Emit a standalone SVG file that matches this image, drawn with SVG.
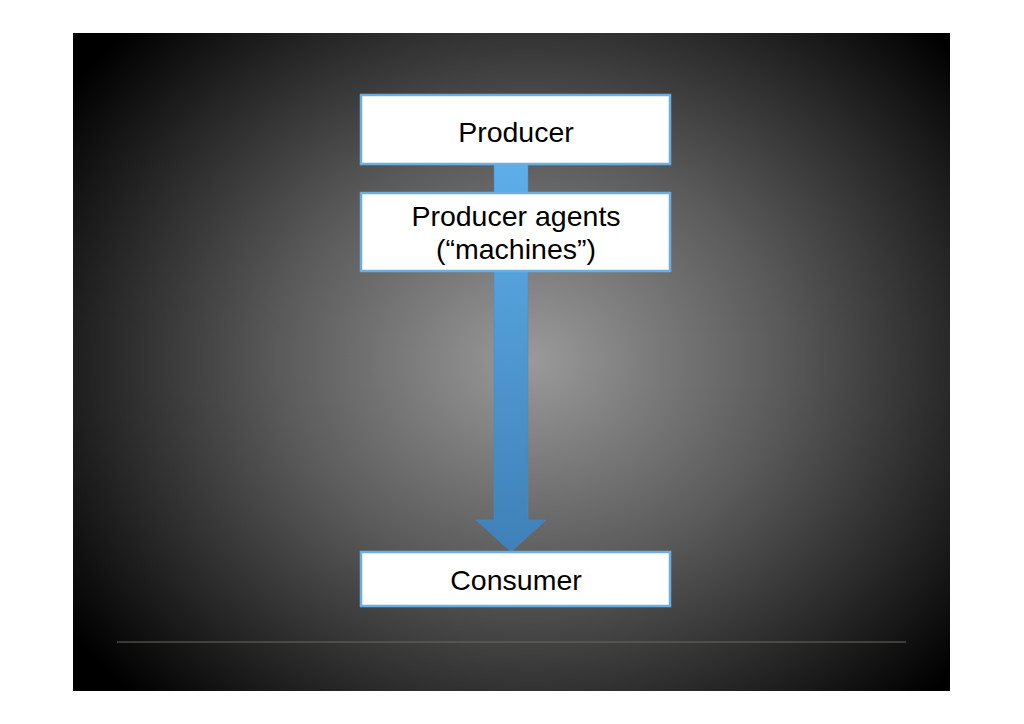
<svg xmlns="http://www.w3.org/2000/svg" width="1024" height="724" viewBox="0 0 1024 724">
<defs>
<radialGradient id="bg" cx="530" cy="360" r="560" gradientUnits="userSpaceOnUse" gradientTransform="translate(530 360) scale(1 0.85) translate(-530 -360)">
<stop offset="0" stop-color="#9a9a9a"/>
<stop offset="0.45" stop-color="#5a5a5a"/>
<stop offset="1" stop-color="#000000"/>
</radialGradient>
<linearGradient id="arr" x1="0" y1="164" x2="0" y2="552" gradientUnits="userSpaceOnUse">
<stop offset="0" stop-color="#5eaee9"/>
<stop offset="1" stop-color="#3f80b8"/>
</linearGradient>
<style>
.box{fill:#ffffff;stroke:#6aaee2;stroke-width:2.5}
.t{font-family:"Liberation Sans",Arial,sans-serif;font-size:28.5px;fill:#000;text-anchor:middle}
</style>
</defs>
<rect width="1024" height="724" fill="#ffffff"/>
<rect x="73" y="33" width="877" height="658" fill="url(#bg)"/>
<line x1="117" y1="642" x2="906" y2="642" stroke="#6a685e" stroke-width="1"/>
<g id="connectors">
<path d="M494 164 H528 V520 H546 L511 552 L476 520 H494 Z" fill="url(#arr)" stroke="#4a88c0" stroke-width="0.5"/>
</g>
<g id="producer">
<rect class="box" x="361" y="95" width="309" height="69"/>
<text class="t" x="516" y="142">Producer</text>
</g>
<g id="agents">
<rect class="box" x="361" y="193" width="309" height="78"/>
<text class="t" x="516" y="226">Producer agents</text>
<text class="t" x="516" y="259">(“machines”)</text>
</g>
<g id="consumer">
<rect class="box" x="361" y="552" width="309" height="54"/>
<text class="t" x="516" y="590">Consumer</text>
</g>
</svg>
